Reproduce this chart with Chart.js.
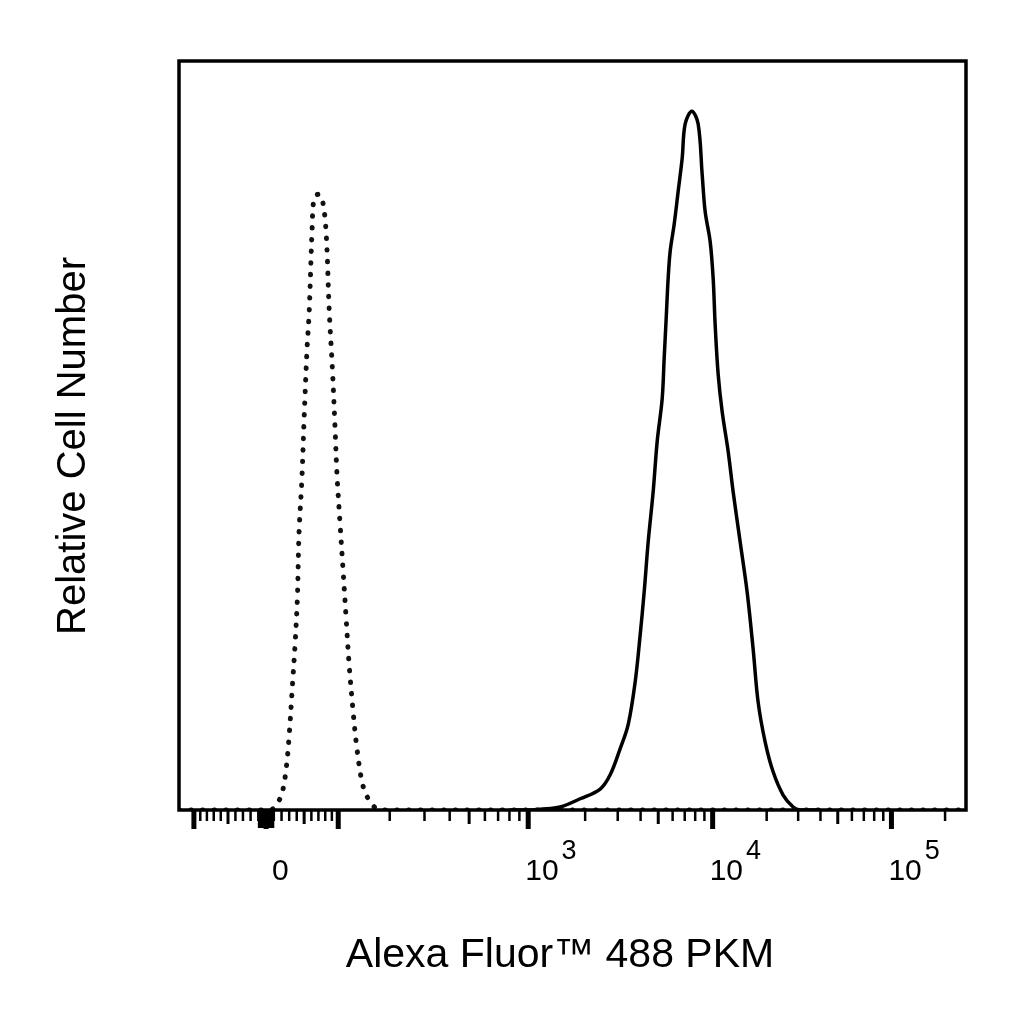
<!DOCTYPE html>
<html>
<head>
<meta charset="utf-8">
<title>Alexa Fluor 488 PKM histogram</title>
<script src="https://cdn.jsdelivr.net/npm/chart.js@4.4.1/dist/chart.umd.min.js"></script>
<style>
  html, body { margin: 0; padding: 0; background: #fff; }
  canvas { display: block; }
</style>
</head>
<body>
<canvas id="histChart" width="1024" height="1024"></canvas>
<script>
// Stained sample (solid) and unstained control (dotted), relative counts
const stainedX = [800, 1025, 1155, 1471, 1880, 2410, 2730, 3094, 3420, 3735, 3979, 4184, 4402, 4689, 4933,
  5255, 5390, 5529, 5671, 5817, 6121, 6440, 6776, 7040, 7667, 8309, 8744, 9086, 9686, 10064, 10325,
  10729, 11293, 12195, 13002, 14224, 15561, 16807, 17923, 19610, 21735, 24719, 28116, 30770, 40000];
const stainedY = [0, 0, 0.1, 0.4, 1.5, 2.8, 4.7, 8.2, 11.4, 17.1, 23.4, 29.1, 35.8, 42.5, 49.2,
  54.9, 60.3, 65.6, 71.0, 74.6, 78.2, 82.6, 87.0, 91.6, 93.3, 91.6, 84.9, 79.9, 75.9, 71.0, 64.8,
  58.2, 53.2, 47.9, 42.5, 35.8, 29.1, 21.5, 14.4, 9.1, 5.1, 2.0, 0.4, 0, 0];

const controlX = [-125, 5, 14, 21, 26, 30, 34, 38, 41, 43, 47, 50, 54, 57, 61, 64, 70, 75, 81, 86,
  91, 95, 98, 103, 108, 113, 118, 125, 131, 140, 147, 157, 172, 190, 262144];
const controlY = [0, 0, 0.8, 2.4, 5.5, 10.0, 16.2, 22.5, 28.7, 36.8, 44.3, 52.3, 61.6, 66.6, 77.5, 81.8,
  82.2, 81.8, 77.5, 66.6, 58.6, 50.9, 44.8, 38.1, 31.8, 25.5, 19.4, 13.1, 8.7, 4.1, 2.4, 1.1, 0.1, 0, 0];

// logicle display: top of scale, decades, linearisation width
const LOGICLE_T = 262144;
const LOGICLE_M = 4.42;
const LOGICLE_W = 0.488;

const majorTicks = [-100, 0, 100, 1000, 10000, 100000];
const midTicks = [-50, 50, 500, 5000, 50000];
const minorTicks = [-90, -80, -70, -60, -40, -30, -20, -10,
  10, 20, 30, 40, 60, 70, 80, 90,
  200, 300, 400, 600, 700, 800, 900,
  2000, 3000, 4000, 6000, 7000, 8000, 9000,
  20000, 30000, 40000, 60000, 70000, 80000, 90000, 200000];
const denseTicks = [-9, -8, -7, -6, -5, -4, -3, -2, -1, 1, 2, 3, 4, 5, 6, 7, 8, 9];

const labelValues = [0, 1000, 10000, 100000];
const labelBase = ['0', '10', '10', '10'];
const labelExp = ['', '3', '4', '5'];

const xTitle = 'Alexa Fluor\u2122 488 PKM';
const yTitle = 'Relative Cell Number';

const FONT = '"Liberation Sans", Arial, sans-serif';

// logicle transform (Parks et al.), solved numerically
const L = (function () {
  const w = LOGICLE_W / LOGICLE_M;
  const b = LOGICLE_M * Math.LN10;
  let lo = 1e-6, hi = b;
  for (let i = 0; i < 80; i++) {
    const d = (lo + hi) / 2;
    if (2 * (Math.log(d) - Math.log(b)) + w * (b + d) > 0) hi = d; else lo = d;
  }
  const d = (lo + hi) / 2;
  const ca = Math.exp(2 * w * (b + d));
  const mfa = Math.exp(b * w) - ca * Math.exp(-d * w);
  const a = LOGICLE_T / (Math.exp(b) - mfa - ca * Math.exp(-d));
  return { w, b, d, ca, mfa, a };
})();

function logicleS(y) {
  if (y < L.w) return -logicleS(2 * L.w - y);
  return L.a * (Math.exp(L.b * y) - L.ca * Math.exp(-L.d * y) - L.mfa);
}
function logicleY(v) {
  if (v < 0) return 2 * L.w - logicleY(-v);
  let lo = L.w, hi = 1.5;
  for (let i = 0; i < 60; i++) {
    const m = (lo + hi) / 2;
    if (logicleS(m) > v) hi = m; else lo = m;
  }
  return (lo + hi) / 2;
}

class LogicleScale extends Chart.Scale {
  determineDataLimits() {
    this.min = this.options.min;
    this.max = this.options.max;
  }
  buildTicks() {
    return majorTicks.map(v => ({ value: v, major: true }));
  }
  getLabelForValue(v) { return String(v); }
  configure() {
    super.configure();
    this._y0 = logicleY(this.min);
    this._y1 = logicleY(this.max);
  }
  getPixelForValue(v) {
    return this.getPixelForDecimal((logicleY(v) - this._y0) / (this._y1 - this._y0));
  }
  getValueForPixel(p) {
    const f = this.getDecimalForPixel(p);
    return logicleS(this._y0 + f * (this._y1 - this._y0));
  }
}
LogicleScale.id = 'logicle';
LogicleScale.defaults = {};
Chart.register(LogicleScale);

const facsAxes = {
  id: 'facsAxes',
  afterDraw(chart) {
    const { ctx, chartArea: a, scales: { x } } = chart;
    ctx.save();
    ctx.strokeStyle = '#000';
    ctx.lineWidth = 3.5;
    ctx.strokeRect(a.left, a.top, a.right - a.left, a.bottom - a.top);

    const tick = (v, len, w) => {
      const px = x.getPixelForValue(v);
      ctx.lineWidth = w;
      ctx.beginPath();
      ctx.moveTo(px, a.bottom);
      ctx.lineTo(px, a.bottom + len);
      ctx.stroke();
    };
    minorTicks.forEach(v => tick(v, 11, 2.5));
    denseTicks.forEach(v => tick(v, 18, 2.5));
    midTicks.forEach(v => tick(v, 14, 3));
    majorTicks.forEach(v => tick(v, 19, 5));

    ctx.fillStyle = '#000';
    ctx.textBaseline = 'alphabetic';
    ctx.textAlign = 'left';
    labelValues.forEach((v, i) => {
      const px = x.getPixelForValue(v);
      ctx.font = '30px ' + FONT;
      const lx = labelExp[i] ? px - 3 : px + 6;
      ctx.fillText(labelBase[i], lx, 880);
      if (labelExp[i]) {
        const w = ctx.measureText(labelBase[i]).width;
        ctx.font = '27px ' + FONT;
        ctx.fillText(labelExp[i], lx + w + 3, 859);
      }
    });

    ctx.font = '41px ' + FONT;
    ctx.textAlign = 'center';
    ctx.fillText(xTitle, 560, 967);

    ctx.font = '40px ' + FONT;
    ctx.translate(85, 446);
    ctx.rotate(-Math.PI / 2);
    ctx.fillText(yTitle, 0, 0);
    ctx.restore();
  }
};

const toPoints = (xs, ys) => xs.map((v, i) => ({ x: v, y: ys[i] }));

new Chart(document.getElementById('histChart'), {
  type: 'line',
  data: {
    datasets: [
      {
        label: 'Control',
        data: toPoints(controlX, controlY),
        borderColor: '#111',
        borderWidth: 5,
        borderDash: [0.5, 11.2],
        borderCapStyle: 'round',
        tension: 0.35,
        fill: false,
        pointRadius: 0
      },
      {
        label: 'Alexa Fluor 488 PKM',
        data: toPoints(stainedX, stainedY),
        borderColor: '#000',
        borderWidth: 3.5,
        tension: 0.35,
        fill: false,
        pointRadius: 0
      }
    ]
  },
  options: {
    responsive: false,
    devicePixelRatio: 1,
    animation: false,
    layout: { padding: { left: 179, right: 58, top: 61, bottom: 214 } },
    plugins: { legend: { display: false }, tooltip: { enabled: false } },
    scales: {
      x: { type: 'logicle', min: -125, max: LOGICLE_T, display: false },
      y: { type: 'linear', min: 0, max: 100, display: false }
    }
  },
  plugins: [facsAxes]
});
</script>
</body>
</html>
